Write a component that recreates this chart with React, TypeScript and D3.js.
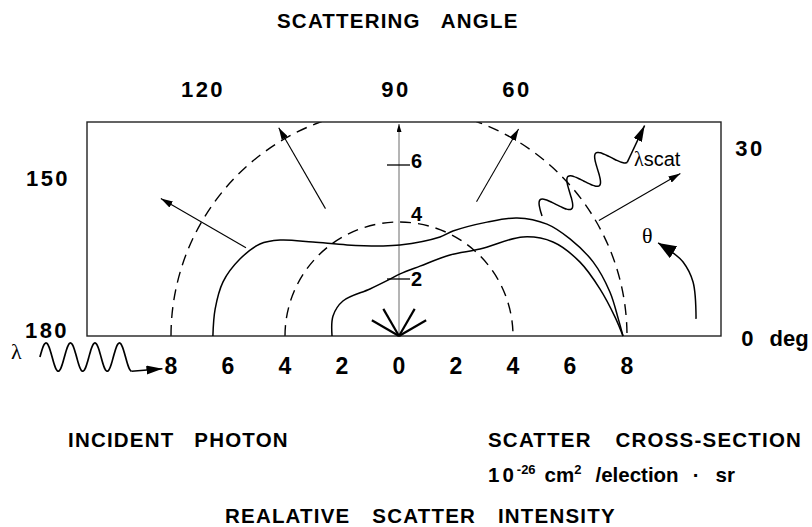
import { useRef, useEffect } from "react";
import * as d3 from "d3";

// polar curves: [scattering angle in deg] -> cross-section (1e-26 cm2 / electron sr)
const upperAngles = [180, 171.7, 162.9, 154.2, 146.5, 141.1, 132.5, 119.7, 101.9, 89.4, 67.5, 62.8, 52.3, 45, 37.1, 29.6, 20.9, 11.8, 4.4, 0];
const upperValues = [6.53, 6.52, 6.46, 6.2, 5.85, 5.36, 4.47, 3.68, 3.23, 3.19, 3.76, 4.14, 5.05, 5.86, 6.51, 6.9, 7.29, 7.56, 7.72, 7.86];
const lowerAngles = [180, 163.1, 148, 121.7, 99, 89, 73.3, 57.8, 47, 38.6, 31.4, 22.2, 13.2, 5, 0];
const lowerValues = [2.35, 2.42, 2.32, 1.94, 2.02, 2.18, 2.56, 3.36, 4.17, 5.57, 6.33, 6.86, 7.24, 7.61, 7.86];

const refCircles = [4, 8];
const intensityTicks = [6, 4, 2];
const intensityTickMarks = [6, 2];
const axisValues = [-8, -6, -4, -2, 0, 2, 4, 6, 8];
const angleLabels = ["180", "150", "120", "90", "60", "30", "0 deg"];

// direction arrows (angle, start, end in intensity units)
const rayAngles = [150, 120, 60, 30];
const rayFrom = [6.2, 5.16, 5.44, 8.1];
const rayTo = [9.65, 8.44, 8.39, 11.4];
const starAngles = [30, 60, 120, 150];
const thetaArcAngles = [3.3, 10.4, 14.6, 17.1, 19.75];
const thetaArcValues = [10.44, 10.49, 10.3, 10.02, 9.66];

// layout
const W = 812;
const H = 527;
const cx = 399;
const cy = 336;
const R8 = 228;
const frame = { left: 87, right: 721, top: 122 };
const angleLabelAt: [number, number][] = [[47, 338], [48, 186], [203, 97], [396, 97], [517, 97], [750, 156], [775, 346]];
const intensityLabelDy = [3, -1, 7];
const INK = "#000";
const FONT = "'Liberation Sans', Arial, Helvetica, sans-serif";
const SERIF = "'Liberation Serif', 'DejaVu Serif', serif";

export default function App() {
  const svgRef = useRef<SVGSVGElement>(null);

  useEffect(() => {
    document.body.style.margin = "0";
    const svg = svgRef.current;
    if (!svg) return;

    const r = d3.scaleLinear().domain([0, 8]).range([0, R8]);
    const x = d3.scaleLinear().domain([-8, 8]).range([cx - R8, cx + R8]);
    const y = d3.scaleLinear().domain([0, 8]).range([cy, cy - R8]);
    const rad = (deg: number) => (deg * Math.PI) / 180;
    const pol = (deg: number, v: number): [number, number] => [x(v * Math.cos(rad(deg))), y(v * Math.sin(rad(deg)))];

    const sel = d3.select(svg);
    sel.selectAll("*").remove();
    sel.attr("width", W).attr("height", H);

    const defs = sel.append("defs");
    defs.append("clipPath").attr("id", "plotclip")
      .append("rect")
      .attr("x", frame.left).attr("y", frame.top)
      .attr("width", frame.right - frame.left).attr("height", cy - frame.top);
    const marker = (id: string, len: number, wid: number) =>
      defs.append("marker").attr("id", id)
        .attr("markerUnits", "userSpaceOnUse")
        .attr("markerWidth", len).attr("markerHeight", wid)
        .attr("refX", len).attr("refY", wid / 2)
        .attr("orient", "auto")
        .append("path")
        .attr("d", `M0,0L${len},${wid / 2}L0,${wid}Z`)
        .attr("fill", INK);
    marker("arr", 12, 7);
    marker("arrBig", 16, 9);
    marker("arrTheta", 18, 14);
    marker("arrAxis", 8, 5);

    const g = sel.append("g");

    // dashed reference circles
    g.append("g").attr("clip-path", "url(#plotclip)")
      .selectAll("path")
      .data(refCircles)
      .join("path")
      .attr("d", (v) => {
        const p = d3.path();
        p.arc(cx, cy, r(v), Math.PI, 2 * Math.PI);
        return p.toString();
      })
      .attr("fill", "none")
      .attr("stroke", INK)
      .attr("stroke-width", 1.4)
      .attr("stroke-dasharray", "11,7");

    // frame
    g.append("rect")
      .attr("x", frame.left).attr("y", frame.top)
      .attr("width", frame.right - frame.left).attr("height", cy - frame.top)
      .attr("fill", "none").attr("stroke", "#222").attr("stroke-width", 1.4);

    // vertical intensity axis
    g.append("line")
      .attr("x1", x(0)).attr("y1", y(0))
      .attr("x2", x(0)).attr("y2", frame.top + 2)
      .attr("stroke", "#444").attr("stroke-width", 0.8)
      .attr("marker-end", "url(#arrAxis)");
    g.selectAll(".itick")
      .data(intensityTickMarks)
      .join("line")
      .attr("class", "itick")
      .attr("x1", x(0) - 12).attr("x2", x(0) + 11)
      .attr("y1", (d) => y(d)).attr("y2", (d) => y(d))
      .attr("stroke", INK).attr("stroke-width", 1.3);
    g.selectAll(".ilabel")
      .data(intensityTicks)
      .join("text")
      .attr("class", "ilabel")
      .attr("x", x(0) + 12)
      .attr("y", (d, i) => y(d) + intensityLabelDy[i])
      .attr("font-family", FONT).attr("font-weight", "bold").attr("font-size", 20)
      .attr("fill", INK)
      .text((d) => d);

    // star at origin
    g.selectAll(".star")
      .data(starAngles)
      .join("line")
      .attr("class", "star")
      .attr("x1", x(0)).attr("y1", y(0))
      .attr("x2", (d) => pol(d, 1.1)[0]).attr("y2", (d) => pol(d, 1.1)[1])
      .attr("stroke", INK).attr("stroke-width", 2.2);

    // cross-section curves
    const radial = d3.lineRadial<[number, number]>()
      .angle((d) => rad(90 - d[0]))
      .radius((d) => r(d[1]))
      .curve(d3.curveCatmullRom.alpha(0.5));
    const curves = [
      upperAngles.map((a, i) => [a, upperValues[i]] as [number, number]),
      lowerAngles.map((a, i) => [a, lowerValues[i]] as [number, number]),
    ];
    g.selectAll(".curve")
      .data(curves)
      .join("path")
      .attr("class", "curve")
      .attr("transform", `translate(${cx},${cy})`)
      .attr("d", (d) => radial(d))
      .attr("fill", "none").attr("stroke", INK).attr("stroke-width", 1.5);

    // direction arrows
    g.selectAll(".ray")
      .data(rayAngles)
      .join("line")
      .attr("class", "ray")
      .attr("x1", (d, i) => pol(d, rayFrom[i])[0]).attr("y1", (d, i) => pol(d, rayFrom[i])[1])
      .attr("x2", (d, i) => pol(d, rayTo[i])[0]).attr("y2", (d, i) => pol(d, rayTo[i])[1])
      .attr("stroke", INK).attr("stroke-width", 1.1)
      .attr("marker-end", "url(#arr)");

    // theta arrow
    g.append("path")
      .attr("transform", `translate(${cx},${cy})`)
      .datum(thetaArcAngles.map((a, i) => [a, thetaArcValues[i]] as [number, number]))
      .attr("d", radial)
      .attr("fill", "none").attr("stroke", INK).attr("stroke-width", 1.5)
      .attr("marker-end", "url(#arrTheta)");
    g.append("text")
      .attr("x", 642).attr("y", 243)
      .attr("font-family", SERIF).attr("font-size", 22).attr("fill", INK)
      .text("θ");

    // scattered photon wave along 40 deg
    const wave = (n: number, cycles: number) => d3.range(n + 1).map((i) => [i / n, Math.sin(2 * Math.PI * cycles * (i / n))]);
    const sDir = 40;
    const sPts = wave(90, 2.75).map(([t, s]) => {
      const along = 6.55 + t * 3.5;
      const off = 0.48 * s;
      return [
        x(along * Math.cos(rad(sDir)) - off * Math.sin(rad(sDir))),
        y(along * Math.sin(rad(sDir)) + off * Math.cos(rad(sDir))),
      ] as [number, number];
    });
    g.append("path")
      .attr("d", d3.line().curve(d3.curveBasis)(sPts))
      .attr("fill", "none").attr("stroke", INK).attr("stroke-width", 1.5);
    const sEnd = sPts[sPts.length - 1];
    const sTip = pol(40.6, 11.35);
    g.append("line")
      .attr("x1", sEnd[0]).attr("y1", sEnd[1]).attr("x2", sTip[0]).attr("y2", sTip[1])
      .attr("stroke", INK).attr("stroke-width", 1.5)
      .attr("marker-end", "url(#arrBig)");
    g.append("text")
      .attr("x", 634).attr("y", 166)
      .attr("font-family", FONT).attr("font-size", 20).attr("fill", INK)
      .call((t) => {
        t.append("tspan").attr("font-family", SERIF).text("λ");
        t.append("tspan").text("scat");
      });

    // incident photon wave
    const iPts = wave(100, 3.75).map(([t, s]) => [x(-12.6 + t * 3.22), y(-0.74 + 0.5 * s)] as [number, number]);
    g.append("path")
      .attr("d", d3.line().curve(d3.curveBasis)(iPts))
      .attr("fill", "none").attr("stroke", INK).attr("stroke-width", 1.7);
    const iEnd = iPts[iPts.length - 1];
    g.append("line")
      .attr("x1", iEnd[0]).attr("y1", iEnd[1]).attr("x2", x(-8.3)).attr("y2", y(-1.15))
      .attr("stroke", INK).attr("stroke-width", 1.5)
      .attr("marker-end", "url(#arrBig)");
    g.append("text")
      .attr("x", 11).attr("y", 359)
      .attr("font-family", SERIF).attr("font-size", 22).attr("fill", INK)
      .text("λ");

    // bottom intensity axis labels
    g.selectAll(".xlabel")
      .data(axisValues)
      .join("text")
      .attr("class", "xlabel")
      .attr("x", (d) => x(d)).attr("y", 374)
      .attr("text-anchor", "middle")
      .attr("font-family", FONT).attr("font-weight", "bold").attr("font-size", 23)
      .attr("fill", INK)
      .text((d) => Math.abs(d));

    // scattering angle labels
    g.selectAll(".alabel")
      .data(angleLabels)
      .join("text")
      .attr("class", "alabel")
      .attr("x", (d, i) => angleLabelAt[i][0]).attr("y", (d, i) => angleLabelAt[i][1])
      .attr("text-anchor", "middle")
      .attr("font-family", FONT).attr("font-weight", "bold").attr("font-size", 22)
      .attr("fill", INK)
      .style("letter-spacing", (d) => (d === "0 deg" ? "0px" : "2.5px"))
      .style("word-spacing", "10px")
      .text((d) => d);

    // titles
    const label = (tx: number, ty: number, s: string, ws: number) =>
      g.append("text")
        .attr("x", tx).attr("y", ty)
        .attr("font-family", FONT).attr("font-weight", "bold").attr("font-size", 20.5)
        .attr("fill", INK)
        .style("letter-spacing", "1.2px")
        .style("word-spacing", `${ws}px`)
        .text(s);
    label(277, 28, "SCATTERING ANGLE", 14);
    label(68, 447, "INCIDENT PHOTON", 13);
    label(488, 447, "SCATTER CROSS-SECTION", 17);
    label(225, 523, "REALATIVE SCATTER INTENSITY", 15);

    const units = g.append("text")
      .attr("x", 488).attr("y", 482)
      .attr("font-family", FONT).attr("font-weight", "bold").attr("font-size", 20.5)
      .attr("fill", INK);
    units.append("tspan").style("letter-spacing", "3px").text("10");
    units.append("tspan").attr("font-size", 13).attr("dy", -8).text("-26");
    units.append("tspan").attr("dy", 8).attr("dx", 9).text("cm");
    units.append("tspan").attr("font-size", 13).attr("dy", -8).text("2");
    units.append("tspan").attr("dy", 8).attr("dx", 14).text("/election");
    units.append("tspan").attr("dx", 14).text("·");
    units.append("tspan").attr("dx", 16).text("sr");
  }, []);

  return <svg ref={svgRef} style={{ display: "block" }} />;
}
